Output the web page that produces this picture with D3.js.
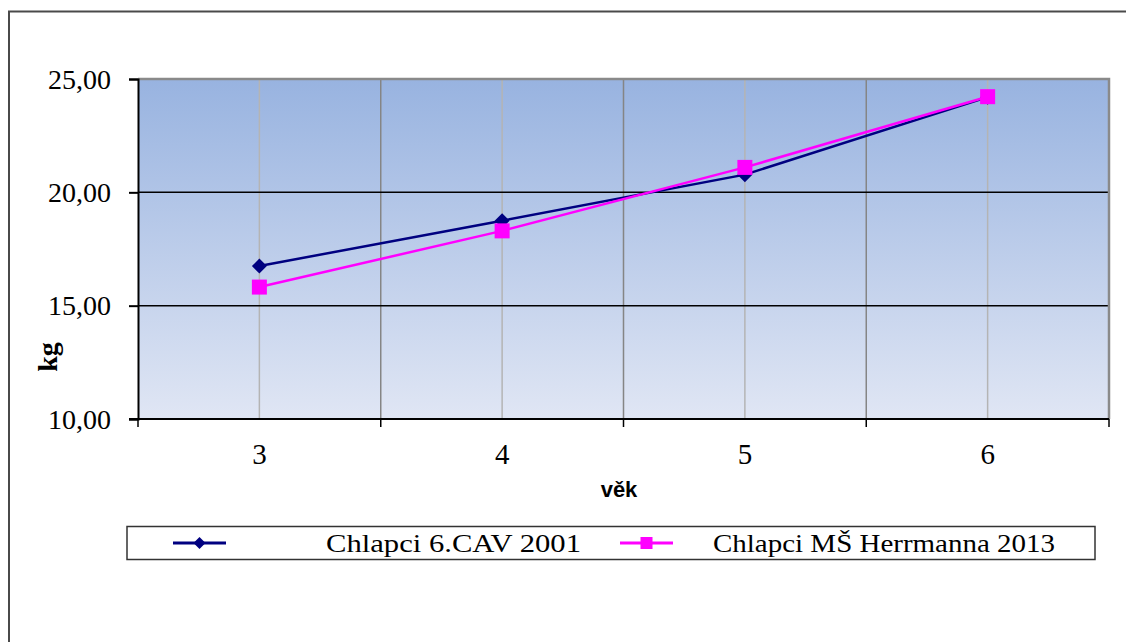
<!DOCTYPE html>
<html>
<head>
<meta charset="utf-8">
<script src="https://cdn.jsdelivr.net/npm/d3@7"></script>
<style>
  html, body { margin: 0; padding: 0; background: #fff; }
  svg { display: block; }
  .serif { font-family: "Liberation Serif", "Times New Roman", serif; }
  .sansb { font-family: "Liberation Sans", Arial, sans-serif; font-weight: bold; }
</style>
</head>
<body>
<svg id="chart" width="1126" height="642"></svg>
<script>
// ---- data ----
const categories = ["3", "4", "5", "6"];
const seriesNames = ["Chlapci 6.CAV 2001", "Chlapci MŠ Herrmanna 2013"];
const cav2001 = [16.75, 18.75, 20.78, 24.2];
const ms2013 = [15.82, 18.3, 21.1, 24.22];
const yTicks = [10, 15, 20, 25];
const yTickLabels = ["10,00", "15,00", "20,00", "25,00"];
const xTitle = "věk";
const yTitle = "kg";

const svg = d3.select("#chart");

// outer frame
svg.append("rect").attr("x", 9).attr("y", 11.5).attr("width", 1200).attr("height", 700)
  .attr("fill", "#fff").attr("stroke", "#4a4a4a").attr("stroke-width", 2);

const plot = { left: 138, top: 79, right: 1109, bottom: 419 };

const x = d3.scaleBand().domain(categories).range([plot.left, plot.right]).padding(0);
const y = d3.scaleLinear().domain([10, 25]).range([plot.bottom, plot.top]);

// gradient background
const defs = svg.append("defs");
const grad = defs.append("linearGradient").attr("id", "bg").attr("x1", 0).attr("y1", 0).attr("x2", 0).attr("y2", 1);
grad.append("stop").attr("offset", "0%").attr("stop-color", "#98b3e0");
grad.append("stop").attr("offset", "100%").attr("stop-color", "#e0e6f4");

svg.append("rect").attr("x", plot.left).attr("y", plot.top)
  .attr("width", plot.right - plot.left).attr("height", plot.bottom - plot.top)
  .attr("fill", "url(#bg)");

// vertical grid: category centers (light) and boundaries (darker)
svg.append("g").selectAll("line").data(categories).join("line")
  .attr("x1", d => x(d) + x.bandwidth() / 2).attr("x2", d => x(d) + x.bandwidth() / 2)
  .attr("y1", plot.top).attr("y2", plot.bottom)
  .attr("stroke", "#b4b4b4").attr("stroke-width", 1.5);
svg.append("g").selectAll("line").data(categories.slice(1)).join("line")
  .attr("x1", d => x(d)).attr("x2", d => x(d))
  .attr("y1", plot.top).attr("y2", plot.bottom)
  .attr("stroke", "#858585").attr("stroke-width", 1.5);

// horizontal grid
svg.append("g").selectAll("line").data(yTicks.filter(t => t > 10 && t < 25)).join("line")
  .attr("x1", plot.left).attr("x2", plot.right)
  .attr("y1", d => y(d)).attr("y2", d => y(d))
  .attr("stroke", "#000").attr("stroke-width", 1.5);

// top and right border (gray)
svg.append("path")
  .attr("d", `M${plot.left},${plot.top}H${plot.right}V${plot.bottom}`)
  .attr("fill", "none").attr("stroke", "#8a8a8a").attr("stroke-width", 2.5);

// y axis
const yAxis = d3.axisLeft(y).tickValues(yTicks).tickSize(9).tickPadding(18)
  .tickFormat((d, i) => yTickLabels[i]);
const gy = svg.append("g").attr("transform", `translate(${plot.left},0)`).call(yAxis);
gy.attr("font-family", null).attr("font-size", null);
gy.select(".domain").attr("stroke", "#000").attr("stroke-width", 2);
gy.selectAll(".tick line").attr("stroke", "#000").attr("stroke-width", 2);
gy.selectAll(".tick text").attr("class", "serif")
  .style("font-size", "28px").attr("fill", "#000").attr("dy", "0.33em");

// x axis
const xAxis = d3.axisBottom(x).tickSize(0).tickPadding(0);
const gx = svg.append("g").attr("transform", `translate(0,${plot.bottom})`).call(xAxis);
gx.attr("font-family", null).attr("font-size", null);
gx.select(".domain").remove();
gx.append("line").attr("x1", plot.left - 9).attr("x2", plot.right).attr("y1", 0).attr("y2", 0)
  .attr("stroke", "#000").attr("stroke-width", 2);
const boundaries = categories.map(d => x(d)).concat([plot.right]);
gx.selectAll(".bt").data(boundaries).join("line").attr("class", "bt")
  .attr("x1", d => d).attr("x2", d => d).attr("y1", 0).attr("y2", 8)
  .attr("stroke", "#000").attr("stroke-width", 1.5);
gx.selectAll(".tick text").attr("class", "serif")
  .style("font-size", "29px").attr("fill", "#000").attr("y", 45).attr("dy", 0);

// axis titles
svg.append("text").attr("class", "sansb").attr("x", 619).attr("y", 497).attr("text-anchor", "middle")
  .style("font-size", "22px").text(xTitle);
svg.append("text").attr("class", "serif").attr("transform", "translate(57,357) rotate(-90)").attr("text-anchor", "middle")
  .style("font-weight", "bold").style("font-size", "28px").text(yTitle);

// series
const cx = d => x(d) + x.bandwidth() / 2;
const line = d3.line().x(d => cx(d.c)).y(d => y(d.v));
const s1 = categories.map((c, i) => ({ c, v: cav2001[i] }));
const s2 = categories.map((c, i) => ({ c, v: ms2013[i] }));

svg.append("path").datum(s1).attr("d", line).attr("fill", "none").attr("stroke", "#000080").attr("stroke-width", 2.5);
svg.append("path").datum(s2).attr("d", line).attr("fill", "none").attr("stroke", "#ff00ff").attr("stroke-width", 2.5);

const diamond = s => `M0,${-s}L${s},0L0,${s}L${-s},0Z`;
svg.append("g").selectAll("path").data(s1).join("path")
  .attr("transform", d => `translate(${cx(d.c)},${y(d.v)})`)
  .attr("d", diamond(7.5)).attr("fill", "#000080");
svg.append("g").selectAll("rect").data(s2).join("rect")
  .attr("x", d => cx(d.c) - 7.5).attr("y", d => y(d.v) - 7.5)
  .attr("width", 15).attr("height", 15).attr("fill", "#ff00ff");

// legend
const lg = svg.append("g");
lg.append("rect").attr("x", 127).attr("y", 526.5).attr("width", 968).attr("height", 33)
  .attr("fill", "#fff").attr("stroke", "#333").attr("stroke-width", 1.5);
const legendItems = [
  { name: seriesNames[0], color: "#000080", shape: "diamond", x0: 173, x1: 226, tx: 326, w: 255 },
  { name: seriesNames[1], color: "#ff00ff", shape: "square", x0: 620, x1: 673, tx: 713, w: 342 }
];
legendItems.forEach(it => {
  const ly = 543;
  lg.append("line").attr("x1", it.x0).attr("x2", it.x1).attr("y1", ly).attr("y2", ly)
    .attr("stroke", it.color).attr("stroke-width", 3);
  const mx = (it.x0 + it.x1) / 2;
  if (it.shape === "diamond") {
    lg.append("path").attr("transform", `translate(${mx},${ly})`).attr("d", diamond(6)).attr("fill", it.color);
  } else {
    lg.append("rect").attr("x", mx - 6).attr("y", ly - 6).attr("width", 12).attr("height", 12).attr("fill", it.color);
  }
  lg.append("text").attr("class", "serif").attr("x", it.tx).attr("y", ly + 9)
    .style("font-size", "26px").attr("fill", "#000")
    .attr("textLength", it.w).attr("lengthAdjust", "spacingAndGlyphs").text(it.name);
});
</script>
</body>
</html>
